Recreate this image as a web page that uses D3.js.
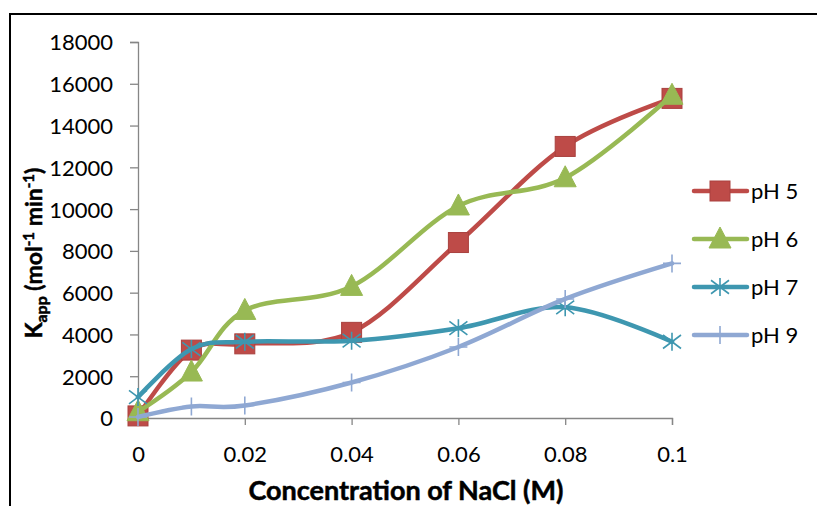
<!DOCTYPE html>
<html>
<head>
<meta charset="utf-8">
<script src="https://cdn.jsdelivr.net/npm/d3@7"></script>
<style>
  html, body { margin: 0; padding: 0; background: #fff; }
  svg { display: block; font-family: Lato, "Liberation Sans", sans-serif; }
</style>
</head>
<body>
<svg id="chart" width="817" height="506"></svg>
<script>
// ---- data ----
const concentrations = [0, 0.01, 0.02, 0.04, 0.06, 0.08, 0.1];
const seriesNames = ["pH 5", "pH 6", "pH 7", "pH 9"];
const pH5 = [100, 3250, 3550, 4100, 8400, 13000, 15300];
const pH6 = [300, 2200, 5150, 6300, 10150, 11500, 15450];
const pH7 = [1000, 3300, 3650, 3700, 4300, 5300, 3650];
const pH9 = [50, 550, 600, 1700, 3400, 5700, 7400];
const xTicks = [0, 0.02, 0.04, 0.06, 0.08, 0.1];
const xTickLabels = ["0", "0.02", "0.04", "0.06", "0.08", "0.1"];
const yTicks = [0, 2000, 4000, 6000, 8000, 10000, 12000, 14000, 16000, 18000];

const seriesValues = [pH5, pH6, pH7, pH9];
const colors = ["#BE4B48", "#98B954", "#3E97B0", "#8FA8D3"];
const markers = ["square", "triangle", "star", "plus"];

const svg = d3.select("#chart");
const x = d3.scaleLinear().domain([0, 0.1]).range([138, 672]);
const y = d3.scaleLinear().domain([0, 18000]).range([418, 42]);

// frame
svg.append("path")
  .attr("d", "M10,520 L10,14 L830,14")
  .attr("fill", "none").attr("stroke", "#000").attr("stroke-width", 2);

const axisColor = "#868686";
// y axis
const yAxis = svg.append("g").attr("transform", "translate(138,0)")
  .call(d3.axisLeft(y).tickValues(yTicks).tickSize(8).tickPadding(17).tickFormat(d3.format("d")));
// x axis
const xAxis = svg.append("g").attr("transform", "translate(0,418)")
  .call(d3.axisBottom(x).tickValues(xTicks).tickSize(7).tickPadding(20)
    .tickFormat((d, i) => xTickLabels[i]));
[yAxis, xAxis].forEach(g => {
  g.select(".domain").attr("stroke", axisColor).attr("stroke-width", 1.3);
  g.selectAll(".tick line").attr("stroke", axisColor).attr("stroke-width", 1.3);
  g.selectAll("text").attr("fill", "#000").style("font-size", "22px").style("font-family", "Lato");
});
yAxis.selectAll("text").attr("dy", "0.36em");
xAxis.selectAll("text").attr("dy", "0.75em");

// lines
const line = d3.line()
  .x((d, i) => x(concentrations[i]))
  .y(d => y(d))
  .curve(d3.curveCardinal.tension(0));

function drawMarker(g, type, cx, cy, color) {
  if (type === "square") {
    g.append("rect").attr("x", cx - 10).attr("y", cy - 10).attr("width", 20).attr("height", 20)
      .attr("fill", color).attr("stroke", "#A9413E").attr("stroke-width", 1);
  } else if (type === "triangle") {
    g.append("path").attr("d", `M${cx},${cy - 12} L${cx + 11},${cy + 9} L${cx - 11},${cy + 9} Z`)
      .attr("fill", color).attr("stroke", color).attr("stroke-width", 1);
  } else if (type === "star") {
    const r = 9;
    g.append("path")
      .attr("d", `M${cx},${cy - r} L${cx},${cy + r} M${cx - r},${cy - r * 0.75} L${cx + r},${cy + r * 0.75} M${cx - r},${cy + r * 0.75} L${cx + r},${cy - r * 0.75}`)
      .attr("fill", "none").attr("stroke", color).attr("stroke-width", 1.6);
  } else if (type === "plus") {
    const r = 9;
    g.append("path")
      .attr("d", `M${cx},${cy - r} L${cx},${cy + r} M${cx - r},${cy} L${cx + r},${cy}`)
      .attr("fill", "none").attr("stroke", color).attr("stroke-width", 1.6);
  }
}

seriesValues.forEach((vals, si) => {
  const g = svg.append("g");
  g.append("path").attr("d", line(vals))
    .attr("fill", "none").attr("stroke", colors[si]).attr("stroke-width", 4.5)
    .attr("stroke-linejoin", "round").attr("stroke-linecap", "round");
  vals.forEach((v, i) => drawMarker(g, markers[si], x(concentrations[i]), y(v), colors[si]));
});

// legend
const legendY = d3.scalePoint().domain(seriesNames).range([191, 335]);
seriesNames.forEach((name, si) => {
  const g = svg.append("g");
  const ly = legendY(name);
  g.append("line").attr("x1", 694).attr("x2", 747).attr("y1", ly).attr("y2", ly)
    .attr("stroke", colors[si]).attr("stroke-width", 4.5).attr("stroke-linecap", "round");
  drawMarker(g, markers[si], 720, ly, colors[si]);
  g.append("text").attr("x", 751).attr("y", ly).attr("dy", "0.36em")
    .style("font-size", "22px").text(name);
});

// axis titles
svg.append("text").attr("x", 406).attr("y", 500).attr("text-anchor", "middle")
  .style("font-size", "27px").style("font-weight", "bold")
  .attr("stroke", "#000").attr("stroke-width", 0.5)
  .text("Concentration of NaCl (M)");

const yt = svg.append("text").attr("transform", "translate(42,253) rotate(-90)")
  .attr("text-anchor", "middle").style("font-size", "23px").style("font-weight", "bold")
  .attr("stroke", "#000").attr("stroke-width", 0.5);
yt.append("tspan").text("K");
yt.append("tspan").attr("dy", "5").style("font-size", "16px").text("app");
yt.append("tspan").attr("dy", "-5").text(" (mol");
yt.append("tspan").attr("dy", "-8").style("font-size", "15px").text("-1");
yt.append("tspan").attr("dy", "8").text(" min");
yt.append("tspan").attr("dy", "-8").style("font-size", "15px").text("-1");
yt.append("tspan").attr("dy", "8").text(")");
</script>
</body>
</html>
